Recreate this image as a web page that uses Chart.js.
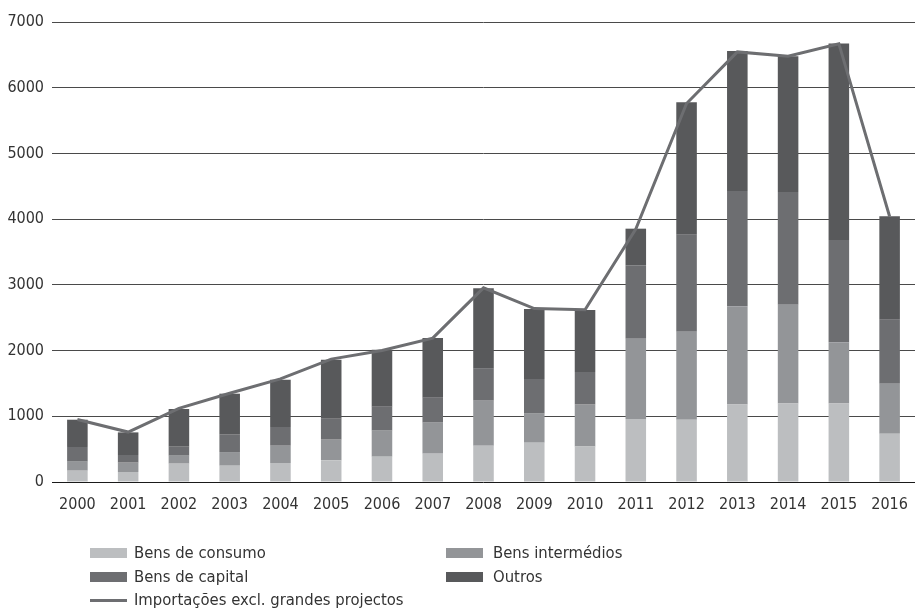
<!DOCTYPE html>
<html>
<head>
<meta charset="utf-8">
<script src="https://cdn.jsdelivr.net/npm/chart.js@4"></script>
<style>
  html,body{margin:0;padding:0;background:#fff;}
  #wrap{position:relative;width:915px;height:610px;}
  #c{position:absolute;left:0;top:0;}
  .lg{position:absolute;font-family:"DejaVu Sans Condensed","DejaVu Sans",sans-serif;font-size:16.5px;color:#333;line-height:20px;white-space:nowrap;}
  .sw{position:absolute;width:37px;height:10px;}
  .ln{position:absolute;width:37px;height:3px;}
</style>
</head>
<body>
<div id="wrap">
  <canvas id="c" width="915" height="610"></canvas>
  <div class="sw" style="left:90px;top:548px;background:#bcbec0"></div>
  <div class="lg" style="left:134px;top:543px">Bens de consumo</div>
  <div class="sw" style="left:446px;top:548px;background:#939598"></div>
  <div class="lg" style="left:493px;top:543px">Bens intermédios</div>
  <div class="sw" style="left:90px;top:572px;background:#6d6e71"></div>
  <div class="lg" style="left:134px;top:567px">Bens de capital</div>
  <div class="sw" style="left:446px;top:572px;background:#58595b"></div>
  <div class="lg" style="left:493px;top:567px">Outros</div>
  <div class="ln" style="left:90px;top:599px;background:#6d6e71"></div>
  <div class="lg" style="left:134px;top:590px">Importações excl. grandes projectos</div>
</div>
<script>
const years = ["2000","2001","2002","2003","2004","2005","2006","2007","2008","2009","2010","2011","2012","2013","2014","2015","2016"];
const bensConsumo    = [172,152,279,248,289,329,385,431,553,598,542,959,948,1181,1196,1196,735];
const bensIntermedios= [137,142,121,208,263,315,396,472,684,442,635,1222,1340,1492,1503,929,761];
const bensCapital    = [224,117,137,264,285,319,365,380,487,527,497,1111,1476,1756,1715,1558,974];
const outros         = [415,344,574,624,720,898,868,909,1223,1066,944,563,2014,2131,2064,2988,1573];
const importacoesExcl= [950,760,1120,1350,1570,1870,2000,2190,2955,2640,2620,3850,5760,6545,6480,6670,4040];
const yTicks = [0,1000,2000,3000,4000,5000,6000,7000];

const FONT = "'DejaVu Sans Condensed','DejaVu Sans',sans-serif";
const barCommon = {type:'bar', stack:'bars', order:1, barPercentage:0.405, categoryPercentage:1.0, borderWidth:0};

new Chart(document.getElementById('c'), {
  data: {
    labels: years,
    datasets: [
      Object.assign({label:'Bens de consumo', data:bensConsumo, backgroundColor:'#bcbec0'}, barCommon),
      Object.assign({label:'Bens intermédios', data:bensIntermedios, backgroundColor:'#939598'}, barCommon),
      Object.assign({label:'Bens de capital', data:bensCapital, backgroundColor:'#6d6e71'}, barCommon),
      Object.assign({label:'Outros', data:outros, backgroundColor:'#58595b'}, barCommon),
      {type:'line', label:'Importações excl. grandes projectos', data:importacoesExcl, stack:'line', order:0,
       borderColor:'#6d6e71', borderWidth:3, pointRadius:0, tension:0, fill:false}
    ]
  },
  options: {
    responsive:false,
    animation:false,
    layout:{padding:{top:22,left:0,right:0,bottom:0}},
    plugins:{legend:{display:false}, tooltip:{enabled:false}},
    scales:{
      x:{
        stacked:true,
        grid:{display:false},
        border:{display:false},
        ticks:{color:'#333', font:{family:FONT,size:16}, padding:5, maxRotation:0},
        afterFit:(s)=>{s.height = 128;}
      },
      y:{
        stacked:true,
        min:0, max:7000,
        afterBuildTicks:(s)=>{s.ticks = yTicks.map(v=>({value:v}));},
        grid:{color:(ctx)=>ctx.tick && ctx.tick.value===0 ? '#1a1a1a' : '#4a4a4a', lineWidth:1, drawTicks:false},
        border:{display:false},
        ticks:{color:'#333', font:{family:FONT,size:16}, padding:8, callback:(v)=>String(v)},
        afterFit:(s)=>{s.width = 52;}
      }
    }
  }
});
</script>
</body>
</html>
